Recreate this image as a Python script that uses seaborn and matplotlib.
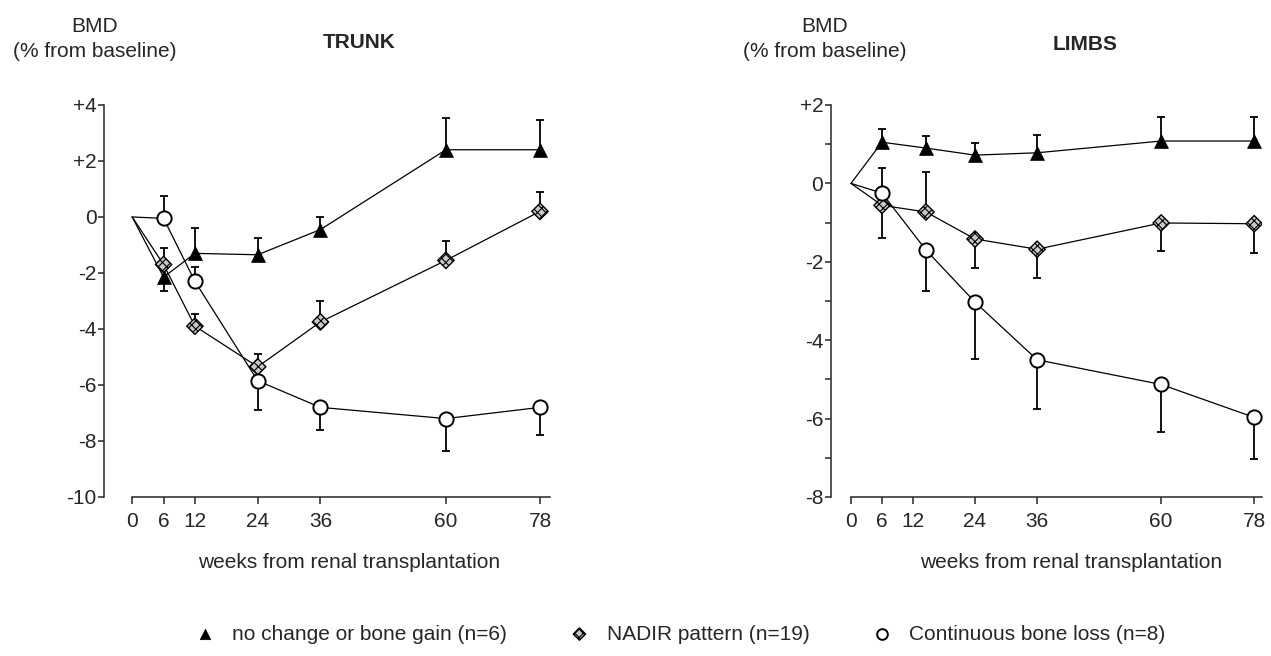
import numpy as np
import pandas as pd
import matplotlib
matplotlib.use("Agg")
import matplotlib.pyplot as plt
import seaborn as sns

# weeks from renal transplantation
weeks_trunk = [0, 6, 12, 24, 36, 60, 78]
weeks_limbs = [0, 6, 14.5, 24, 36, 60, 78]

groups = ["no change or bone gain (n=6)", "NADIR pattern (n=19)", "Continuous bone loss (n=8)"]

# TRUNK: mean BMD change (%) and the end of the one-sided error bar
trunk_gain = [0, -2.15, -1.3, -1.35, -0.45, 2.4, 2.4]
trunk_gain_err = [np.nan, -2.65, -0.4, -0.75, 0.0, 3.55, 3.45]
trunk_nadir = [0, -1.7, -3.9, -5.35, -3.75, -1.55, 0.2]
trunk_nadir_err = [np.nan, -1.1, -3.45, -4.9, -3.0, -0.85, 0.9]
trunk_loss = [0, -0.05, -2.3, -5.85, -6.8, -7.2, -6.8]
trunk_loss_err = [np.nan, 0.75, -1.8, -6.9, -7.6, -8.35, -7.8]

# LIMBS
limbs_gain = [0, 1.05, 0.9, 0.72, 0.78, 1.08, 1.08]
limbs_gain_err = [np.nan, 1.38, 1.2, 1.03, 1.23, 1.7, 1.7]
limbs_nadir = [0, -0.56, -0.73, -1.42, -1.68, -1.01, -1.03]
limbs_nadir_err = [np.nan, -1.4, 0.3, -2.15, -2.42, -1.72, -1.78]
limbs_loss = [0, -0.25, -1.7, -3.03, -4.5, -5.13, -5.97]
limbs_loss_err = [np.nan, 0.4, -2.74, -4.47, -5.75, -6.35, -7.03]

trunk_yticks = [4, 2, 0, -2, -4, -6, -8, -10]
trunk_ylabels = ["+4", "+2", "0", "-2", "-4", "-6", "-8", "-10"]
limbs_yticks = [2, 0, -2, -4, -6, -8]
limbs_ylabels = ["+2", "0", "-2", "-4", "-6", "-8"]
xticks = [0, 6, 12, 24, 36, 60, 78]

sns.set_style("ticks")
plt.rcParams['font.family'] = ['Liberation Sans', 'DejaVu Sans']
plt.rcParams['hatch.linewidth'] = 0.8
FS = 15

styles = [
    dict(marker="^", s=100, color="black", edgecolor="black", linewidth=0.5),
    dict(marker="D", s=70, color="#c8c8c8", edgecolor="black", linewidth=1.0, hatch="xxxx"),
    dict(marker="o", s=105, color="white", edgecolor="black", linewidth=1.4),
]

fig = plt.figure(figsize=(12.71, 6.56), dpi=100)
axL = fig.add_axes([0.0822, 0.2424, 0.3505, 0.5976])
axR = fig.add_axes([0.6538, 0.2424, 0.3395, 0.5976])


def panel(ax, weeks, series, yticks, ylabels, ylim, xlim, minor=None):
    for name, (vals, tips), st in zip(groups, series, styles):
        df = pd.DataFrame({"week": weeks, "bmd": vals, "tip": tips})
        sns.lineplot(data=df, x="week", y="bmd", color="black", lw=0.9,
                     sort=False, estimator=None, ax=ax, zorder=2)
        e = df.iloc[1:]
        ax.vlines(e["week"], e["bmd"], e["tip"], color="black", lw=1.3, zorder=1)
        ax.plot(e["week"], e["tip"], ls="none", marker="_", ms=5.5, mew=1.3,
                color="black", zorder=1)
        sns.scatterplot(data=e, x="week", y="bmd", ax=ax, zorder=3, label=name,
                        legend=False, **st)
    if ax.get_legend():
        ax.get_legend().remove()
    ax.set_xlim(*xlim)
    ax.set_ylim(*ylim)
    ax.set_xticks(xticks)
    ax.set_xticklabels([str(x) for x in xticks], fontsize=FS)
    ax.set_yticks(yticks)
    ax.set_yticklabels(ylabels, fontsize=FS)
    if minor is not None:
        ax.set_yticks(minor, minor=True)
    ax.spines[["top", "right"]].set_visible(False)
    ax.spines["left"].set_bounds(ylim[0], ylim[1])
    ax.spines["bottom"].set_bounds(0, xlim[1])
    for sp in ["left", "bottom"]:
        ax.spines[sp].set_linewidth(1.1)
    ax.tick_params(axis="y", which="major", length=4, width=1.1, pad=1.5)
    ax.tick_params(axis="y", which="minor", length=4, width=1.1)
    ax.tick_params(axis="x", length=5, width=1.1, pad=6)
    ax.set_ylabel("")
    ax.set_xlabel("weeks from renal transplantation", fontsize=FS)


panel(axL, weeks_trunk,
      [(trunk_gain, trunk_gain_err), (trunk_nadir, trunk_nadir_err), (trunk_loss, trunk_loss_err)],
      trunk_yticks, trunk_ylabels, (-10, 4), (-5.3, 79.9))
panel(axR, weeks_limbs,
      [(limbs_gain, limbs_gain_err), (limbs_nadir, limbs_nadir_err), (limbs_loss, limbs_loss_err)],
      limbs_yticks, limbs_ylabels, (-8, 2), (-3.87, 79.6), minor=[1, -1, -3, -5, -7])

axL.xaxis.set_label_coords(0.549, -0.143)
axR.xaxis.set_label_coords(0.556, -0.143)

fig.text(95 / 1271, 1 - 39 / 656, "BMD\n(% from baseline)", ha="center", va="center",
         fontsize=FS, linespacing=1.35)
fig.text(359 / 1271, 1 - 42 / 656, "TRUNK", ha="center", va="center", fontsize=FS,
         fontweight="bold")
fig.text(825 / 1271, 1 - 39 / 656, "BMD\n(% from baseline)", ha="center", va="center",
         fontsize=FS, linespacing=1.35)
fig.text(1085 / 1271, 1 - 45 / 656, "LIMBS", ha="center", va="center", fontsize=FS,
         fontweight="bold")

handles, labels = axL.get_legend_handles_labels()
fig.legend(handles, labels, loc="center left", bbox_to_anchor=(0.138, 0.0335),
           ncol=3, frameon=False, fontsize=FS, handlelength=1, handletextpad=0.8,
           columnspacing=3.0, markerscale=0.75)

fig.savefig("out.png", dpi=100)
